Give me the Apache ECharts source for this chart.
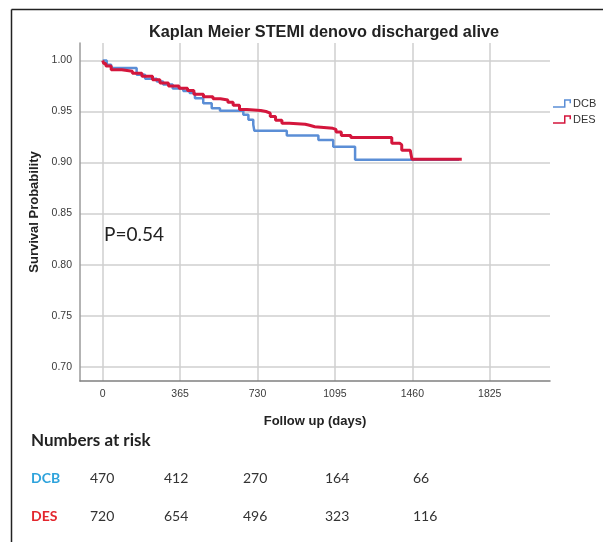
<!DOCTYPE html>
<html><head><meta charset="utf-8">
<script src="https://cdn.jsdelivr.net/npm/echarts@6/dist/echarts.min.js"></script>
<style>html,body{margin:0;padding:0;background:#fff}#c{width:603px;height:542px}</style>
</head><body><div id="c"></div>
<script>
// ---- data ----
const xTicks = [0, 365, 730, 1095, 1460, 1825];
const yTicks = [0.70, 0.75, 0.80, 0.85, 0.90, 0.95, 1.00];
// Kaplan-Meier steps [day, survival]
const dcbDays = [0, 19, 40, 160, 200, 255, 285, 330, 380, 410, 435, 474, 514, 553, 663, 687, 710, 715, 868, 1017, 1087, 1190, 1680];
const dcbSurv = [1.000, 0.9958, 0.9925, 0.986, 0.982, 0.9795, 0.9765, 0.9725, 0.970, 0.968, 0.963, 0.958, 0.9533, 0.9507, 0.9468, 0.9419, 0.937, 0.9311, 0.9265, 0.922, 0.9154, 0.9027, 0.9027];
const desDays = [0, 5, 15, 40, 90, 140, 185, 235, 270, 310, 360, 400, 430, 475, 520, 555, 590, 615, 645, 680, 745, 770, 790, 815, 845, 880, 955, 975, 1000, 1085, 1100, 1125, 1170, 1363, 1400, 1410, 1450, 1458, 1693];
const desSurv = [1.000, 0.997, 0.9945, 0.991, 0.9895, 0.9875, 0.9845, 0.981, 0.978, 0.975, 0.9728, 0.9705, 0.967, 0.9645, 0.9625, 0.9612, 0.959, 0.956, 0.952, 0.951, 0.950, 0.9484, 0.945, 0.9415, 0.9385, 0.9375, 0.9365, 0.935, 0.9335, 0.9325, 0.930, 0.9265, 0.9245, 0.919, 0.9173, 0.912, 0.911, 0.9033, 0.9033];
const seriesNames = ['DCB', 'DES'];
const pValueText = 'P=0.54';
const riskTitle = 'Numbers at risk';
const riskDCB = [470, 412, 270, 164, 66];
const riskDES = [720, 654, 496, 323, 116];

// ---- layout ----
const colLeft = [90, 164, 243, 325, 413];
const rowY = [478, 516];
const rowColors = ['#2ea3dc', '#e3262d'];
const lineColors = ['#5b8ed6', '#d4163c'];

const zip = (a, b) => a.map((v, i) => [v, b[i]]);

const chart = echarts.init(document.getElementById('c'), null, {renderer: 'canvas'});

const graphics = [
  {type: 'line', shape: {x1: 11.5, y1: 9.5, x2: 603, y2: 9.5}, style: {stroke: '#222', lineWidth: 1.5}},
  {type: 'line', shape: {x1: 11.5, y1: 9.5, x2: 11.5, y2: 542}, style: {stroke: '#222', lineWidth: 1.5}},
  {type: 'text', x: 324, y: 33, style: {text: 'Kaplan Meier STEMI denovo discharged alive', font: 'bold 16.3px "Liberation Sans"', fill: '#222', textAlign: 'center', textVerticalAlign: 'middle'}},
  {type: 'text', x: 104, y: 235, z: 10, style: {text: pValueText, font: '19px Lato', fill: '#222', textAlign: 'left', textVerticalAlign: 'middle'}},
  {type: 'text', x: 31, y: 441, style: {text: riskTitle, font: 'bold 17px Lato', fill: '#222', textAlign: 'left', textVerticalAlign: 'middle'}}
];
[riskDCB, riskDES].forEach((row, r) => {
  graphics.push({type: 'text', x: 31, y: rowY[r], style: {text: seriesNames[r], font: 'bold 14px Lato', fill: rowColors[r], textAlign: 'left', textVerticalAlign: 'middle'}});
  row.forEach((v, i) => {
    graphics.push({type: 'text', x: colLeft[i], y: rowY[r], style: {text: String(v), font: '14px Lato', fill: '#333', textAlign: 'left', textVerticalAlign: 'middle'}});
  });
});

const stepIcon = 'path://M0,7 L11,7 L11,0 L18,0 L18,4 L16.5,4 L16.5,1.5 L12.5,1.5 L12.5,8.5 L0,8.5 Z';

chart.setOption({
  animation: false,
  backgroundColor: '#fff',
  grid: {left: 80, right: 53, top: 43, bottom: 161, containLabel: false},
  legend: {
    data: seriesNames, orient: 'vertical', left: 553, top: 98, padding: 0,
    itemWidth: 18, itemHeight: 9, itemGap: 5, icon: stepIcon,
    textStyle: {fontFamily: '"Liberation Sans"', fontSize: 11, color: '#333', padding: [0,0,0,-3]}
  },
  xAxis: {
    type: 'value', min: -107, max: 2109,
    name: 'Follow up (days)', nameLocation: 'middle', nameGap: 34,
    nameTextStyle: {fontFamily: '"Liberation Sans"', fontWeight: 'bold', fontSize: 13, color: '#222'},
    axisLine: {show: true, onZero: false, lineStyle: {color: '#808080', width: 1.5}},
    axisTick: {show: false, customValues: xTicks},
    axisLabel: {customValues: xTicks, formatter: v => String(v), fontFamily: '"Liberation Sans"', fontSize: 10.5, color: '#3a3a3a', margin: 8},
    splitLine: {show: true, lineStyle: {color: '#cfcfcf', width: 1.5}}
  },
  yAxis: {
    type: 'value', min: 0.686, max: 1.0171,
    name: 'Survival Probability', nameLocation: 'middle', nameGap: 37, nameRotate: 90,
    nameTextStyle: {fontFamily: '"Liberation Sans"', fontWeight: 'bold', fontSize: 13, color: '#222'},
    axisLine: {show: true, onZero: false, lineStyle: {color: '#9a9a9a', width: 1.5}},
    axisTick: {show: false, customValues: yTicks},
    axisLabel: {customValues: yTicks, formatter: v => v.toFixed(2), fontFamily: '"Liberation Sans"', fontSize: 10.5, color: '#3a3a3a', margin: 8},
    splitLine: {show: true, lineStyle: {color: '#cfcfcf', width: 1.5}}
  },
  series: [
    {name: 'DCB', type: 'line', step: 'end', data: zip(dcbDays, dcbSurv), showSymbol: false, color: lineColors[0], lineStyle: {width: 2.5, color: lineColors[0]}, z: 3},
    {name: 'DES', type: 'line', step: 'end', data: zip(desDays, desSurv), showSymbol: false, color: lineColors[1], lineStyle: {width: 3, color: lineColors[1]}, z: 4}
  ],
  graphic: graphics
});
</script></body></html>
